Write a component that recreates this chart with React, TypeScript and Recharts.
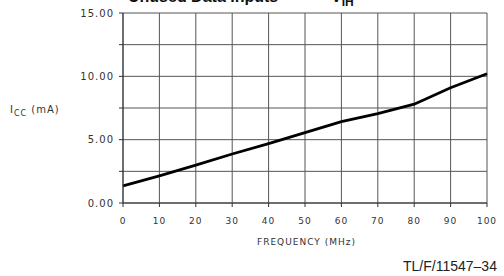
import { LineChart, Line, XAxis, YAxis, CartesianGrid } from 'recharts';

const frequency = [0, 10, 20, 30, 40, 50, 60, 70, 80, 90, 100];
const icc = [1.35, 2.14, 2.99, 3.87, 4.68, 5.55, 6.43, 7.06, 7.8, 9.1, 10.2];
const xTicks = [0, 10, 20, 30, 40, 50, 60, 70, 80, 90, 100];
const yTicks = [0, 2.5, 5, 7.5, 10, 12.5, 15];
const yLabelled = [0, 5, 10, 15];

const data = frequency.map((f, i) => ({ f, icc: icc[i] }));

const tickFont = { fontFamily: 'DejaVu Sans', fill: '#333', letterSpacing: 1 };

export default function App() {
  return (
    <div style={{ position: 'absolute', left: 0, top: 0, width: 504, height: 276, overflow: 'hidden', background: '#fff' }}>
      <LineChart width={504} height={276} data={data} margin={{ top: 13, right: 17, bottom: 43, left: 0 }}>
        <CartesianGrid stroke="#555" strokeWidth={1} />
        <XAxis
          dataKey="f"
          type="number"
          domain={[0, 100]}
          ticks={xTicks}
          height={30}
          stroke="#333"
          tickSize={4}
          tick={{ ...tickFont, fontSize: 9, dy: 9 }}
        />
        <YAxis
          type="number"
          domain={[0, 15]}
          ticks={yTicks}
          width={123}
          stroke="#333"
          tickSize={4}
          interval={0}
          tickFormatter={(v: number) => (yLabelled.includes(v) ? v.toFixed(2) : '')}
          tick={{ ...tickFont, fontSize: 10, dx: -3 }}
        />
        <Line dataKey="icc" stroke="#000" strokeWidth={2.8} dot={false} isAnimationActive={false} type="linear" />
      </LineChart>
      <div style={{ position: 'absolute', left: 128, top: -12, fontFamily: 'Liberation Sans', fontWeight: 'bold', fontSize: 16, color: '#111', whiteSpace: 'nowrap' }}>
        Unused Data Inputs
      </div>
      <div style={{ position: 'absolute', left: 331, top: -12, fontFamily: 'Liberation Sans', fontWeight: 'bold', fontSize: 16, color: '#111', whiteSpace: 'nowrap' }}>
        V<sub style={{ fontSize: 12, verticalAlign: '-4px' }}>IH</sub>
      </div>
      <div style={{ position: 'absolute', left: 10, top: 104, fontFamily: 'DejaVu Sans', fontSize: 10, color: '#333', letterSpacing: 1, whiteSpace: 'nowrap' }}>
        I<sub style={{ fontSize: 8, verticalAlign: '-3px' }}>CC</sub> (mA)
      </div>
      <div style={{ position: 'absolute', left: 257, top: 237, fontFamily: 'DejaVu Sans', fontSize: 9, color: '#333', letterSpacing: 1, whiteSpace: 'nowrap' }}>
        FREQUENCY (MHz)
      </div>
      <div style={{ position: 'absolute', left: 403, top: 258, fontFamily: 'Liberation Sans', fontSize: 14, color: '#222', whiteSpace: 'nowrap' }}>
        TL/F/11547–34
      </div>
    </div>
  );
}
